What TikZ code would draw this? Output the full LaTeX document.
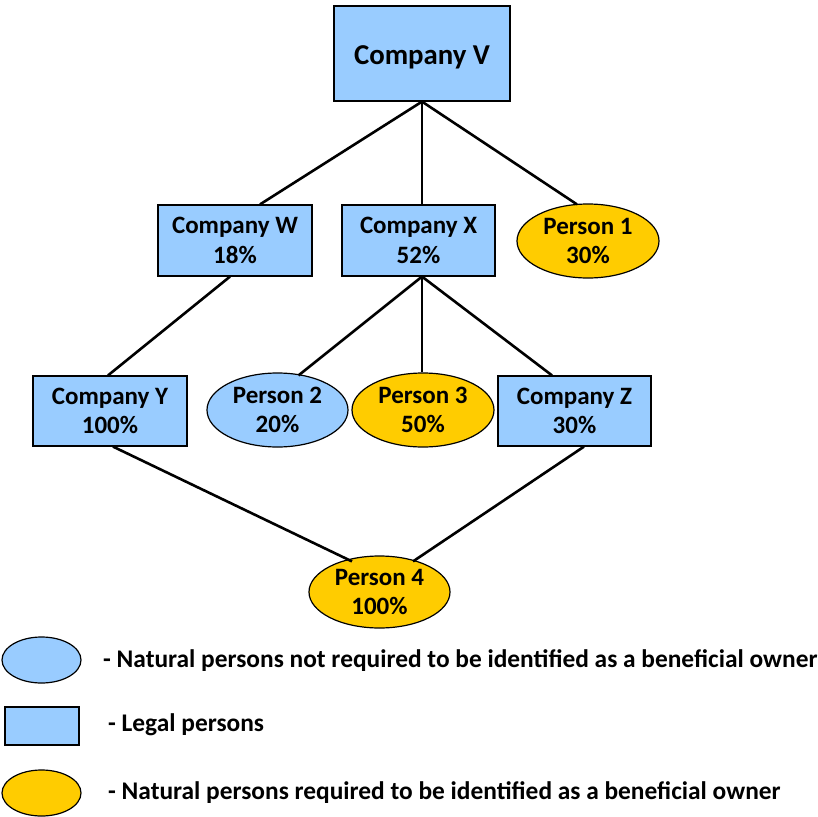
\documentclass[tikz,border=0pt]{standalone}
\usepackage{fontspec}
\setmainfont{Carlito}
\usetikzlibrary{shapes.geometric}
\definecolor{lblue}{HTML}{99CCFF}
\definecolor{gold}{HTML}{FFCC00}
\begin{document}
\begin{tikzpicture}[x=1pt,y=-1pt,
  base/.style={draw=black,line width=1.2pt,inner sep=0pt,align=center,
    font=\fontsize{25}{29.5}\selectfont\bfseries},
  legal/.style={base,rectangle,fill=lblue},
  natblue/.style={base,ellipse,fill=lblue},
  natgold/.style={base,ellipse,fill=gold},
  link/.style={line width=2.6pt},
  legtext/.style={anchor=west,inner sep=0pt,font=\fontsize{25.4}{29}\selectfont\bfseries}]
\useasboundingbox (0,0) rectangle (817,817);
\node[legal,minimum width=176pt,minimum height=95pt,font=\fontsize{28.8}{32}\selectfont\bfseries] (V) at (422,53.5) {\raisebox{-4pt}[\height][\depth]{Company V}};
\node[legal,minimum width=154pt,minimum height=71pt] (W) at (235,240.5) {Company W\\18\%};
\node[legal,minimum width=153pt,minimum height=71pt] (X) at (418.5,240.5) {Company X\\52\%};
\node[natgold,minimum width=142pt,minimum height=74pt] (P1) at (588,241) {Person 1\\30\%};
\node[legal,minimum width=154pt,minimum height=70pt] (Y) at (110,411) {Company Y\\100\%};
\node[natblue,minimum width=141pt,minimum height=74pt] (P2) at (277.5,410) {Person 2\\20\%};
\node[natgold,minimum width=142pt,minimum height=74pt] (P3) at (423,410) {Person 3\\50\%};
\node[legal,minimum width=153pt,minimum height=70pt] (Z) at (574.5,411) {Company Z\\30\%};
\node[natgold,minimum width=141pt,minimum height=72pt] (P4) at (379.5,592) {Person 4\\100\%};
% connectors
\draw[link] (V.south) -- ([xshift=25pt]W.north);
\draw[link] (V.south) -- (V.south |- X.north);
\draw[link] (V.south) -- ([xshift=-11pt,yshift=-1pt]P1.north);
\draw[link] ([xshift=-5pt]W.south) -- ([xshift=-2pt]Y.north);
\draw[link] ([xshift=3.5pt]X.south) -- ([xshift=21pt,yshift=-3pt]P2.north);
\draw[link] ([xshift=3.5pt]X.south) -- ([xshift=-1pt]P3.north);
\draw[link] ([xshift=3.5pt]X.south) -- ([xshift=-22.5pt]Z.north);
\draw[link] ([xshift=3pt]Y.south) -- ([xshift=-27.5pt,yshift=-6pt]P4.north);
\draw[link] ([xshift=9.5pt]Z.south) -- ([xshift=33.5pt,yshift=-6pt]P4.north);
% legend
\node[natblue,minimum width=79pt,minimum height=46pt] (L1) at (41.5,660) {};
\node[legal,minimum width=74pt,minimum height=38pt] (L2) at (42,726) {};
\node[natgold,minimum width=79pt,minimum height=46pt] (L3) at (41.5,793) {};
\node[legtext] (T1) at (103,661) {- Natural persons not required to be identified as a beneficial owner};
\node[legtext] (T2) at (108,725) {- Legal persons};
\node[legtext] (T3) at (108,793) {- Natural persons required to be identified as a beneficial owner};
\end{tikzpicture}
\end{document}
